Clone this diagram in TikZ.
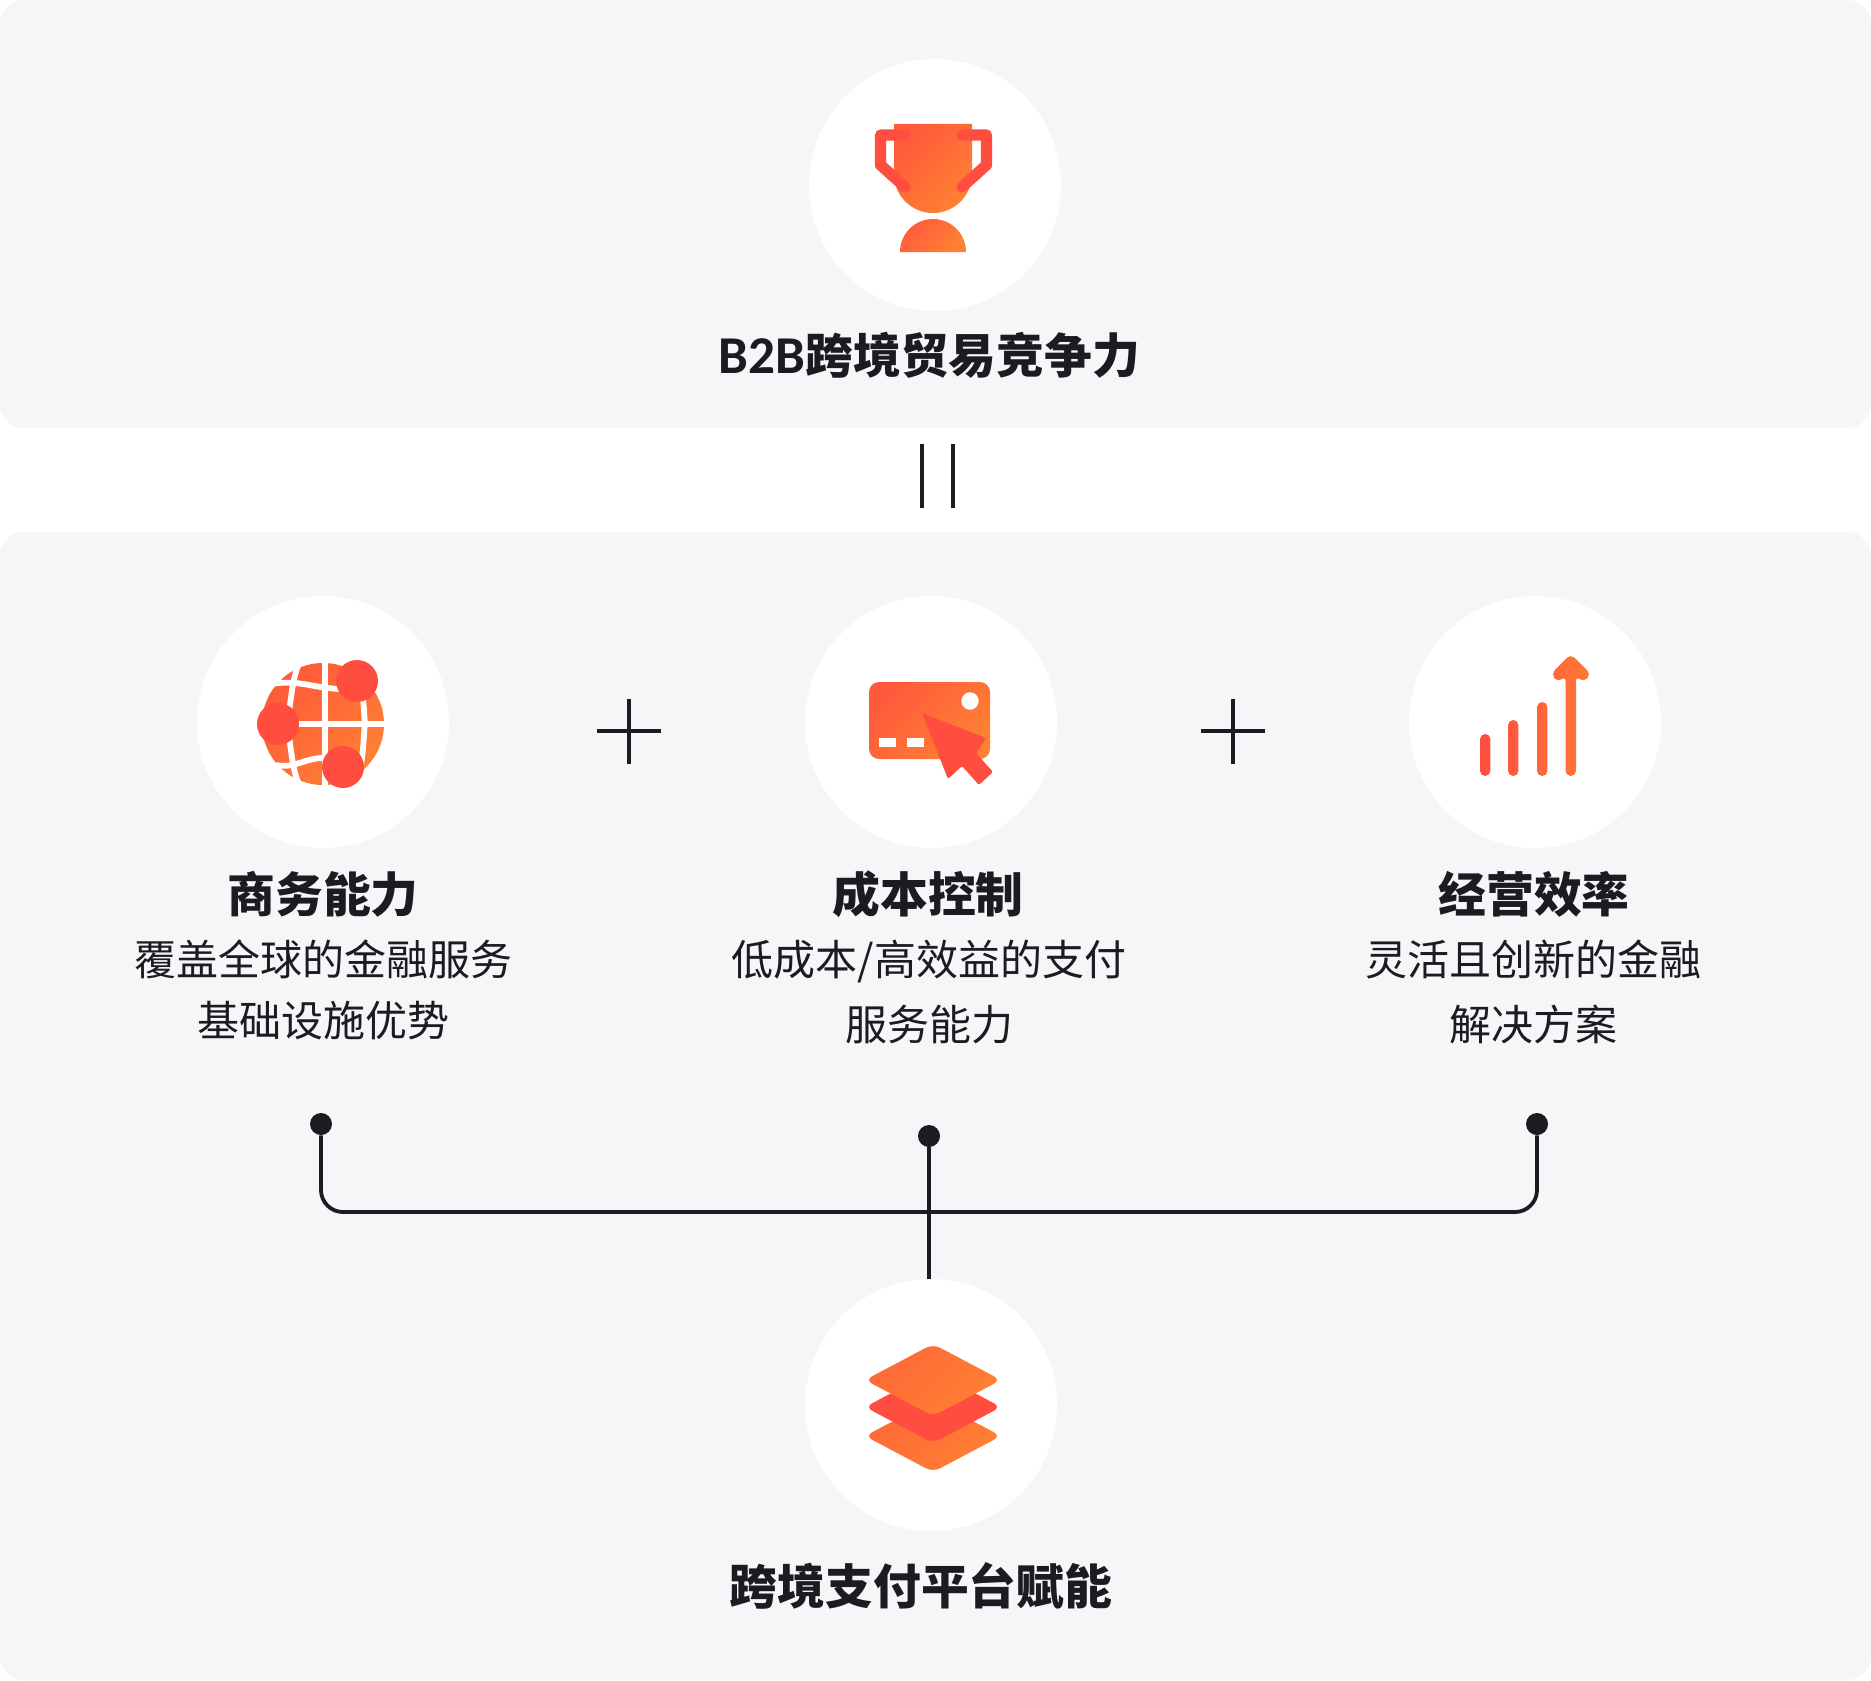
\documentclass[tikz,border=0pt]{standalone}
\usepackage{fontspec}
\setmainfont{Noto Sans CJK SC}
\newfontfamily\latinhead{Carlito}
\definecolor{panelgrey}{HTML}{F5F6F8}
\definecolor{inkdark}{HTML}{1A1C20}
\definecolor{iconred}{HTML}{FF4D3F}
\definecolor{iconstart}{HTML}{FF5A3B}
\definecolor{iconorange}{HTML}{FF8033}
\tikzset{
  panel/.style={fill=panelgrey, rounded corners=12pt},
  iconcircle/.style={circle, fill=white, minimum size=126pt, inner sep=0pt},
  iconfill/.style={top color=iconstart, bottom color=iconorange, shading angle=45},
  chartfill/.style={left color=iconred, right color=iconorange!85!iconred},
  stackfill/.style={top color=iconorange!55!iconred, bottom color=iconorange, shading angle=45},
  iconstroke/.style={draw=iconred, line width=5.6pt, line cap=round, line join=round},
  globeline/.style={draw=white, line width=2.9pt},
  mathline/.style={draw=inkdark, line width=1.7pt},
  linkline/.style={draw=inkdark, line width=1.9pt},
  linkdot/.style={circle, fill=inkdark, minimum size=11pt, inner sep=0pt},
  headtext/.style={text=inkdark, font=\fontsize{23.9}{28}\selectfont\bfseries},
  subtext/.style={text=inkdark, font=\fontsize{21}{30.5}\selectfont, align=center}
}
\begin{document}
\begin{tikzpicture}[x=.5pt, y=-.5pt]

\path [use as bounding box, fill=white] (0,0) rectangle (1871,1680) ;

\fill [panel] (0,0) rectangle (1871,428) ;
\fill [panel] (0,532) rectangle (1871,1680) ;

\node (trophycircle) [iconcircle] at (935,185) {} ;
\node (globecircle) [iconcircle] at (323,722) {} ;
\node (cardcircle) [iconcircle] at (931,722) {} ;
\node (chartcircle) [iconcircle] at (1535,722) {} ;
\node (stackcircle) [iconcircle] at (931,1405) {} ;

\node (trophylabel) [headtext] at (929.5,355) {{\latinhead\fontsize{26.6}{28}\selectfont\bfseries B2B}跨境贸易竞争力} ;
\node (globelabel) [headtext] at (323,894) {商务能力} ;
\node (cardlabel) [headtext] at (928,894) {成本控制} ;
\node (chartlabel) [headtext] at (1534,894) {经营效率} ;
\node (stacklabel) [headtext] at (921,1586) {跨境支付平台赋能} ;

\node (globetext) [subtext] at (323,990) {覆盖全球的金融服务\\基础设施优势} ;
\node (cardtext) [subtext] at (929,992) {低成本/高效益的支付\\[2pt]服务能力} ;
\node (charttext) [subtext] at (1533,992) {灵活且创新的金融\\[2pt]解决方案} ;

\draw [mathline] (922,444) to (922,508) ;
\draw [mathline] (953,444) to (953,508) ;
\draw [mathline] (629,699) to (629,764) ;
\draw [mathline] (597,731) to (661,731) ;
\draw [mathline] (1233,699) to (1233,764) ;
\draw [mathline] (1201,731) to (1265,731) ;

\node (dotleft) [linkdot] at (321,1124) {} ;
\node (dotmid) [linkdot] at (929,1136) {} ;
\node (dotright) [linkdot] at (1537,1124) {} ;
\coordinate (linkbus) at (929,1212) ;
\draw [linkline, rounded corners=11pt] (dotleft) to (dotleft |- linkbus) to (dotright |- linkbus) to (dotright) ;
\draw [linkline] (dotmid) to (dotmid |- stackcircle.north) ;

\path [iconfill] (894,124) to (972,124) to (972,174) arc [start angle=0, end angle=180, radius=39] to cycle ;
\path [iconfill] (900,252) arc [start angle=180, end angle=360, radius=33] to cycle ;
\draw [iconstroke] (905,135) to (880.5,135) to (880.5,165) to (905,187) ;
\draw [iconstroke] (962,135) to (986.5,135) to (986.5,165) to (962,187) ;

\path [iconfill] (323,724) circle [radius=61] ;
\draw [globeline] (325,660) to (325,786) ;
\draw [globeline] (262,724) to (386,724) ;
\draw [globeline] (272,684) to [out=10, in=178] (340,689) ;
\draw [globeline] (276,765) to [out=-12, in=178] (325,758) ;
\draw [globeline] (306,664) to [out=125, in=-90] (287,724) to [out=90, in=-125] (306,784) ;
\draw [globeline] (360,695) to [out=70, in=-90] (365,724) to [out=90, in=-70] (357,768) ;
\fill [iconred] (357,681) circle [radius=21] ;
\fill [iconred] (278,724) circle [radius=21] ;
\fill [iconred] (343,767) circle [radius=21] ;

\path [iconfill, rounded corners=5pt] (869,682) rectangle (990,759) ;
\fill [white] (970,701) circle [radius=8.7] ;
\fill [white] (879,738) rectangle (896,747) ;
\fill [white] (907,738) rectangle (924,747) ;
\fill [iconred, rounded corners=1pt] (954,725.5) to (986,738) to (976,753) to (993,772) to (979,785) to (962,766) to (948,779) to (922,713) to (954,725.5) ;

\path [chartfill, rounded corners=2.6pt] (1480,734) rectangle (1490.4,776)
  (1508,720) rectangle (1518.4,776)
  (1537,702) rectangle (1547.4,776)
  (1570.7,776) to (1565.5,776) to (1565.5,676) to (1558,682.5) to (1551,674) to (1570.7,654) to (1591,674) to (1583.5,682.5) to (1576,676) to (1576,776) to (1570.7,776) ;

\path [stackfill, rounded corners=4pt] (967,1418) to (1001,1436) to (933,1472) to (865,1436) to (933,1400) to (967,1418) ;
\fill [iconred, rounded corners=4pt] (967,1389) to (1001,1407) to (933,1443) to (865,1407) to (933,1371) to (967,1389) ;
\path [stackfill, rounded corners=4pt] (967,1362) to (1001,1380) to (933,1416) to (865,1380) to (933,1344) to (967,1362) ;

\end{tikzpicture}
\end{document}
